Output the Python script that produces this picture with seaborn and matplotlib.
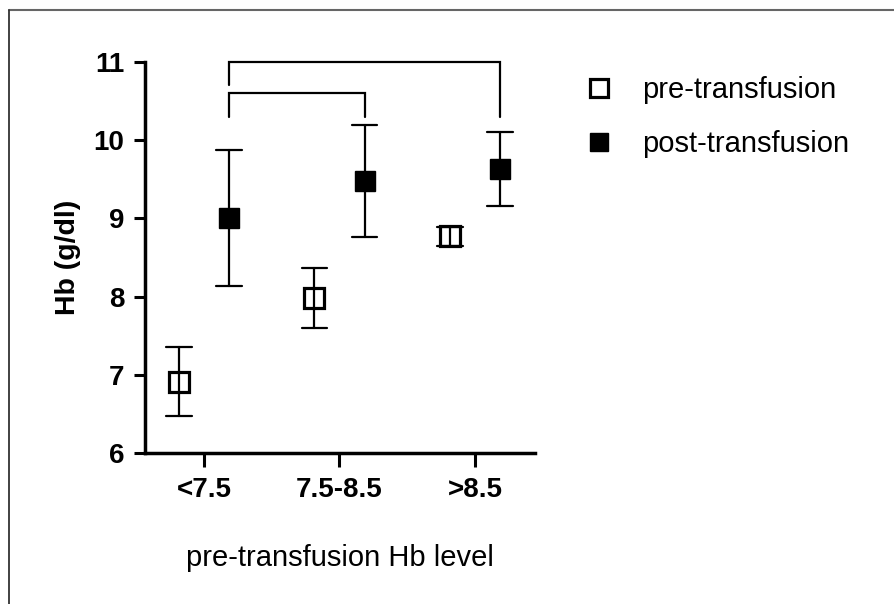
import numpy as np
import pandas as pd
import matplotlib
matplotlib.use("Agg")
import matplotlib.pyplot as plt
from matplotlib.lines import Line2D
import seaborn as sns

# Hb (g/dl) by pre-transfusion Hb group: mean and SD
groups = ["<7.5", "7.5-8.5", ">8.5"]
phases = ["pre-transfusion", "post-transfusion"]
pre_mean = [6.91, 7.98, 8.77]
pre_sd = [0.44, 0.38, 0.12]
post_mean = [9.00, 9.48, 9.63]
post_sd = [0.87, 0.72, 0.47]

# comparison brackets between post-transfusion groups
bracket_pairs = [(0, 1), (0, 2)]
bracket_heights = [10.6, 11.0]
bracket_left_ends = [10.3, 10.71]
bracket_right_ends = [10.3, 10.3]

y_ticks = [6, 7, 8, 9, 10, 11]

# long table: each group holds mean-SD and mean+SD, so the mean is the estimate
# and the min/max span is the SD error bar
rows = []
for phase, means, sds in [(phases[0], pre_mean, pre_sd), (phases[1], post_mean, post_sd)]:
    for g, m, s in zip(groups, means, sds):
        rows.append({"group": g, "phase": phase, "Hb": m - s})
        rows.append({"group": g, "phase": phase, "Hb": m + s})
df = pd.DataFrame(rows)

sns.set_theme(style="ticks")
plt.rcParams["font.family"] = ["Liberation Sans", "DejaVu Sans"]
plt.rcParams["text.color"] = "black"
plt.rcParams["axes.labelcolor"] = "black"

fig = plt.figure(figsize=(8.94, 6.04), dpi=100)
ax = fig.add_axes([145 / 894, 151 / 604, 390 / 894, 391 / 604])

dodge = 0.37
sns.pointplot(
    data=df, x="group", y="Hb", hue="phase", order=groups, hue_order=phases,
    estimator="mean", errorbar=lambda v: (v.min(), v.max()),
    dodge=dodge, markers=["s", "s"], linestyles=["none", "none"],
    palette=["black", "black"], capsize=0.19,
    err_kws={"linewidth": 1.6},
    markersize=14, markeredgewidth=2.3, markerfacecolor="none",
    legend=False, ax=ax,
)

marker_lines = [l for l in ax.lines if l.get_marker() == "s"]
marker_lines[1].set_markerfacecolor("black")
marker_lines[1].set_markeredgewidth(1.0)

# brackets over the post-transfusion points
for (a, b), h, le, re in zip(bracket_pairs, bracket_heights, bracket_left_ends, bracket_right_ends):
    xa, xb = a + dodge / 2, b + dodge / 2
    ax.plot([xa, xa, xb, xb], [le, h, h, re], color="black", lw=1.6,
            clip_on=False, solid_joinstyle="miter")

ax.set_xlim(-0.435, 2.443)
ax.set_ylim(6, 11)
ax.set_yticks(y_ticks)
sns.despine(ax=ax)
for side in ["left", "bottom"]:
    ax.spines[side].set_linewidth(2.5)
    ax.spines[side].set_color("black")
ax.tick_params(axis="y", length=8, width=2.2, pad=7, labelsize=20, colors="black")
ax.tick_params(axis="x", length=10, width=2.2, pad=7, labelsize=20, colors="black")
for lab in ax.get_xticklabels() + ax.get_yticklabels():
    lab.set_fontweight("bold")

ax.set_ylabel("Hb (g/dl)", fontsize=20.5, fontweight="bold", color="black")
ax.yaxis.set_label_coords(-0.164, 0.5)
ax.set_xlabel("pre-transfusion Hb level", fontsize=21, color="black")
ax.xaxis.set_label_coords(0.5, -0.232)

leg = ax.legend(
    marker_lines, phases, loc="upper left",
    bbox_to_anchor=(584 / 894, 1 - 76 / 604), bbox_transform=fig.transFigure,
    frameon=False, markerscale=0.9, handlelength=1.0, handletextpad=1.0,
    labelspacing=0.9, fontsize=21, borderpad=0, borderaxespad=0,
)
for t in leg.get_texts():
    t.set_color("black")

# thin frame along the top and left edge
fig.add_artist(Line2D([8.5 / 894, 1], [1 - 9.5 / 604] * 2, transform=fig.transFigure,
                      color="#666666", lw=1.5))
fig.add_artist(Line2D([8.5 / 894] * 2, [0, 1 - 9.5 / 604], transform=fig.transFigure,
                      color="#333333", lw=1.3))

fig.savefig("out.png", dpi=100, facecolor="white")
